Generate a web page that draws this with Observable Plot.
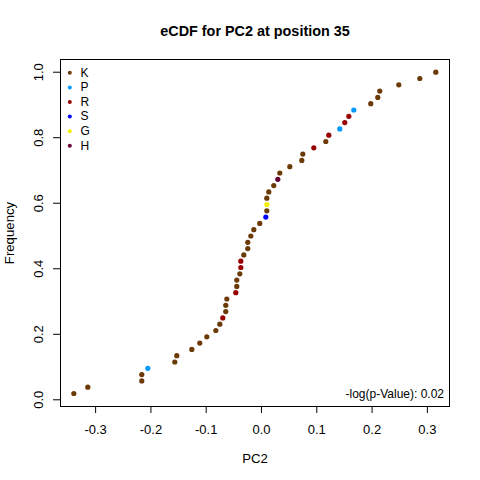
<!DOCTYPE html>
<html>
<head>
<meta charset="utf-8">
<script src="https://cdn.jsdelivr.net/npm/d3@7"></script>
<script src="https://cdn.jsdelivr.net/npm/@observablehq/plot@0.6"></script>
<style>
  html, body { margin: 0; padding: 0; background: #fff; }
  #chart svg { display: block; }
</style>
</head>
<body>
<div id="chart"></div>
<script>
// PC2 values (sorted) and their residue labels
const pc2 = [
  -0.3394, -0.3141, -0.2165, -0.2165, -0.2056, -0.1568, -0.1532, -0.1260, -0.1116, -0.0989,
  -0.0826, -0.0754, -0.0700, -0.0646, -0.0646, -0.0627, -0.0465, -0.0447, -0.0447, -0.0392,
  -0.0374, -0.0374, -0.0320, -0.0248, -0.0248, -0.0193, -0.0139, -0.0031, 0.0078, 0.0096,
  0.0096, 0.0096, 0.0132, 0.0222, 0.0295, 0.0331, 0.0512, 0.0729, 0.0747, 0.0946,
  0.1163, 0.1217, 0.1416, 0.1506, 0.1579, 0.1669, 0.1976, 0.2103, 0.2139, 0.2483,
  0.2863, 0.3152
];
const residues = [
  "K","K","K","K","P","K","K","K","K","K",
  "K","K","R","K","K","K","R","K","K","K",
  "R","R","K","K","K","K","K","K","S","K",
  "G","K","K","K","H","K","K","K","K","R",
  "K","R","P","R","R","P","K","K","K","K",
  "K","K"
];
const legendKeys = ["K","P","R","S","G","H"];
const legendColors = ["#6B3A07","#0099FF","#990000","#0000FF","#F2F200","#660033"];
const xTicks = [-0.3,-0.2,-0.1,0,0.1,0.2,0.3];
const yTicks = [0,0.2,0.4,0.6,0.8,1.0];
const title = "eCDF for PC2 at position 35";
const xLabel = "PC2";
const yLabel = "Frequency";
const pText = "-log(p-Value): 0.02";

const n = pc2.length;
const data = pc2.map((v, i) => ({x: v, y: (i + 1) / n, res: residues[i]}));

const font = "Liberation Sans, Arial, sans-serif";

const marks = [
  Plot.frame({stroke: "black", strokeWidth: 1}),
  Plot.axisX(xTicks, {tickSize: 7, tickPadding: 11.5, tickFormat: d => d.toFixed(1), fontSize: 13, label: null}),
  Plot.axisY(yTicks, {tickSize: 7, tickFormat: () => "", label: null}),
  Plot.text(yTicks, {y: d => d, frameAnchor: "left", dx: -22, rotate: -90, text: d => d.toFixed(1), fontSize: 13, fill: "black", textAnchor: "middle", lineAnchor: "middle"}),
  Plot.dot(data, {x: "x", y: "y", fill: "res", r: 2.6, stroke: null}),
  Plot.text([title], {frameAnchor: "top", dy: -28, text: d => d, fontSize: 14.4, fontWeight: "bold", textAnchor: "middle", lineAnchor: "middle"}),
  Plot.text([xLabel], {frameAnchor: "bottom", dy: 52, text: d => d, fontSize: 13.2, textAnchor: "middle", lineAnchor: "middle"}),
  Plot.text([yLabel], {frameAnchor: "left", dx: -51, rotate: -90, text: d => d, fontSize: 13.2, textAnchor: "middle", lineAnchor: "middle"}),
  Plot.text([pText], {frameAnchor: "bottom-right", dx: -5.5, dy: -12, text: d => d, fontSize: 12, textAnchor: "end", lineAnchor: "middle"})
];
legendKeys.forEach((k, i) => {
  marks.push(Plot.dot([k], {frameAnchor: "top-left", dx: 9.3, dy: 13.3 + i * 14.6, r: 2, fill: legendColors[i], stroke: null}));
  marks.push(Plot.text([k], {frameAnchor: "top-left", dx: 20, dy: 13.3 + i * 14.6, text: d => d, fontSize: 12, textAnchor: "start", lineAnchor: "middle"}));
});

const chart = Plot.plot({
  width: 480,
  height: 480,
  marginLeft: 60,
  marginRight: 31,
  marginTop: 59,
  marginBottom: 74,
  style: {fontFamily: font, fontSize: "12px", background: "white", color: "black"},
  x: {domain: [-0.3635, 0.3400], label: null},
  y: {domain: [-0.0205, 1.0388], label: null},
  color: {domain: legendKeys, range: legendColors},
  marks
});
document.getElementById("chart").appendChild(chart);
</script>
</body>
</html>
